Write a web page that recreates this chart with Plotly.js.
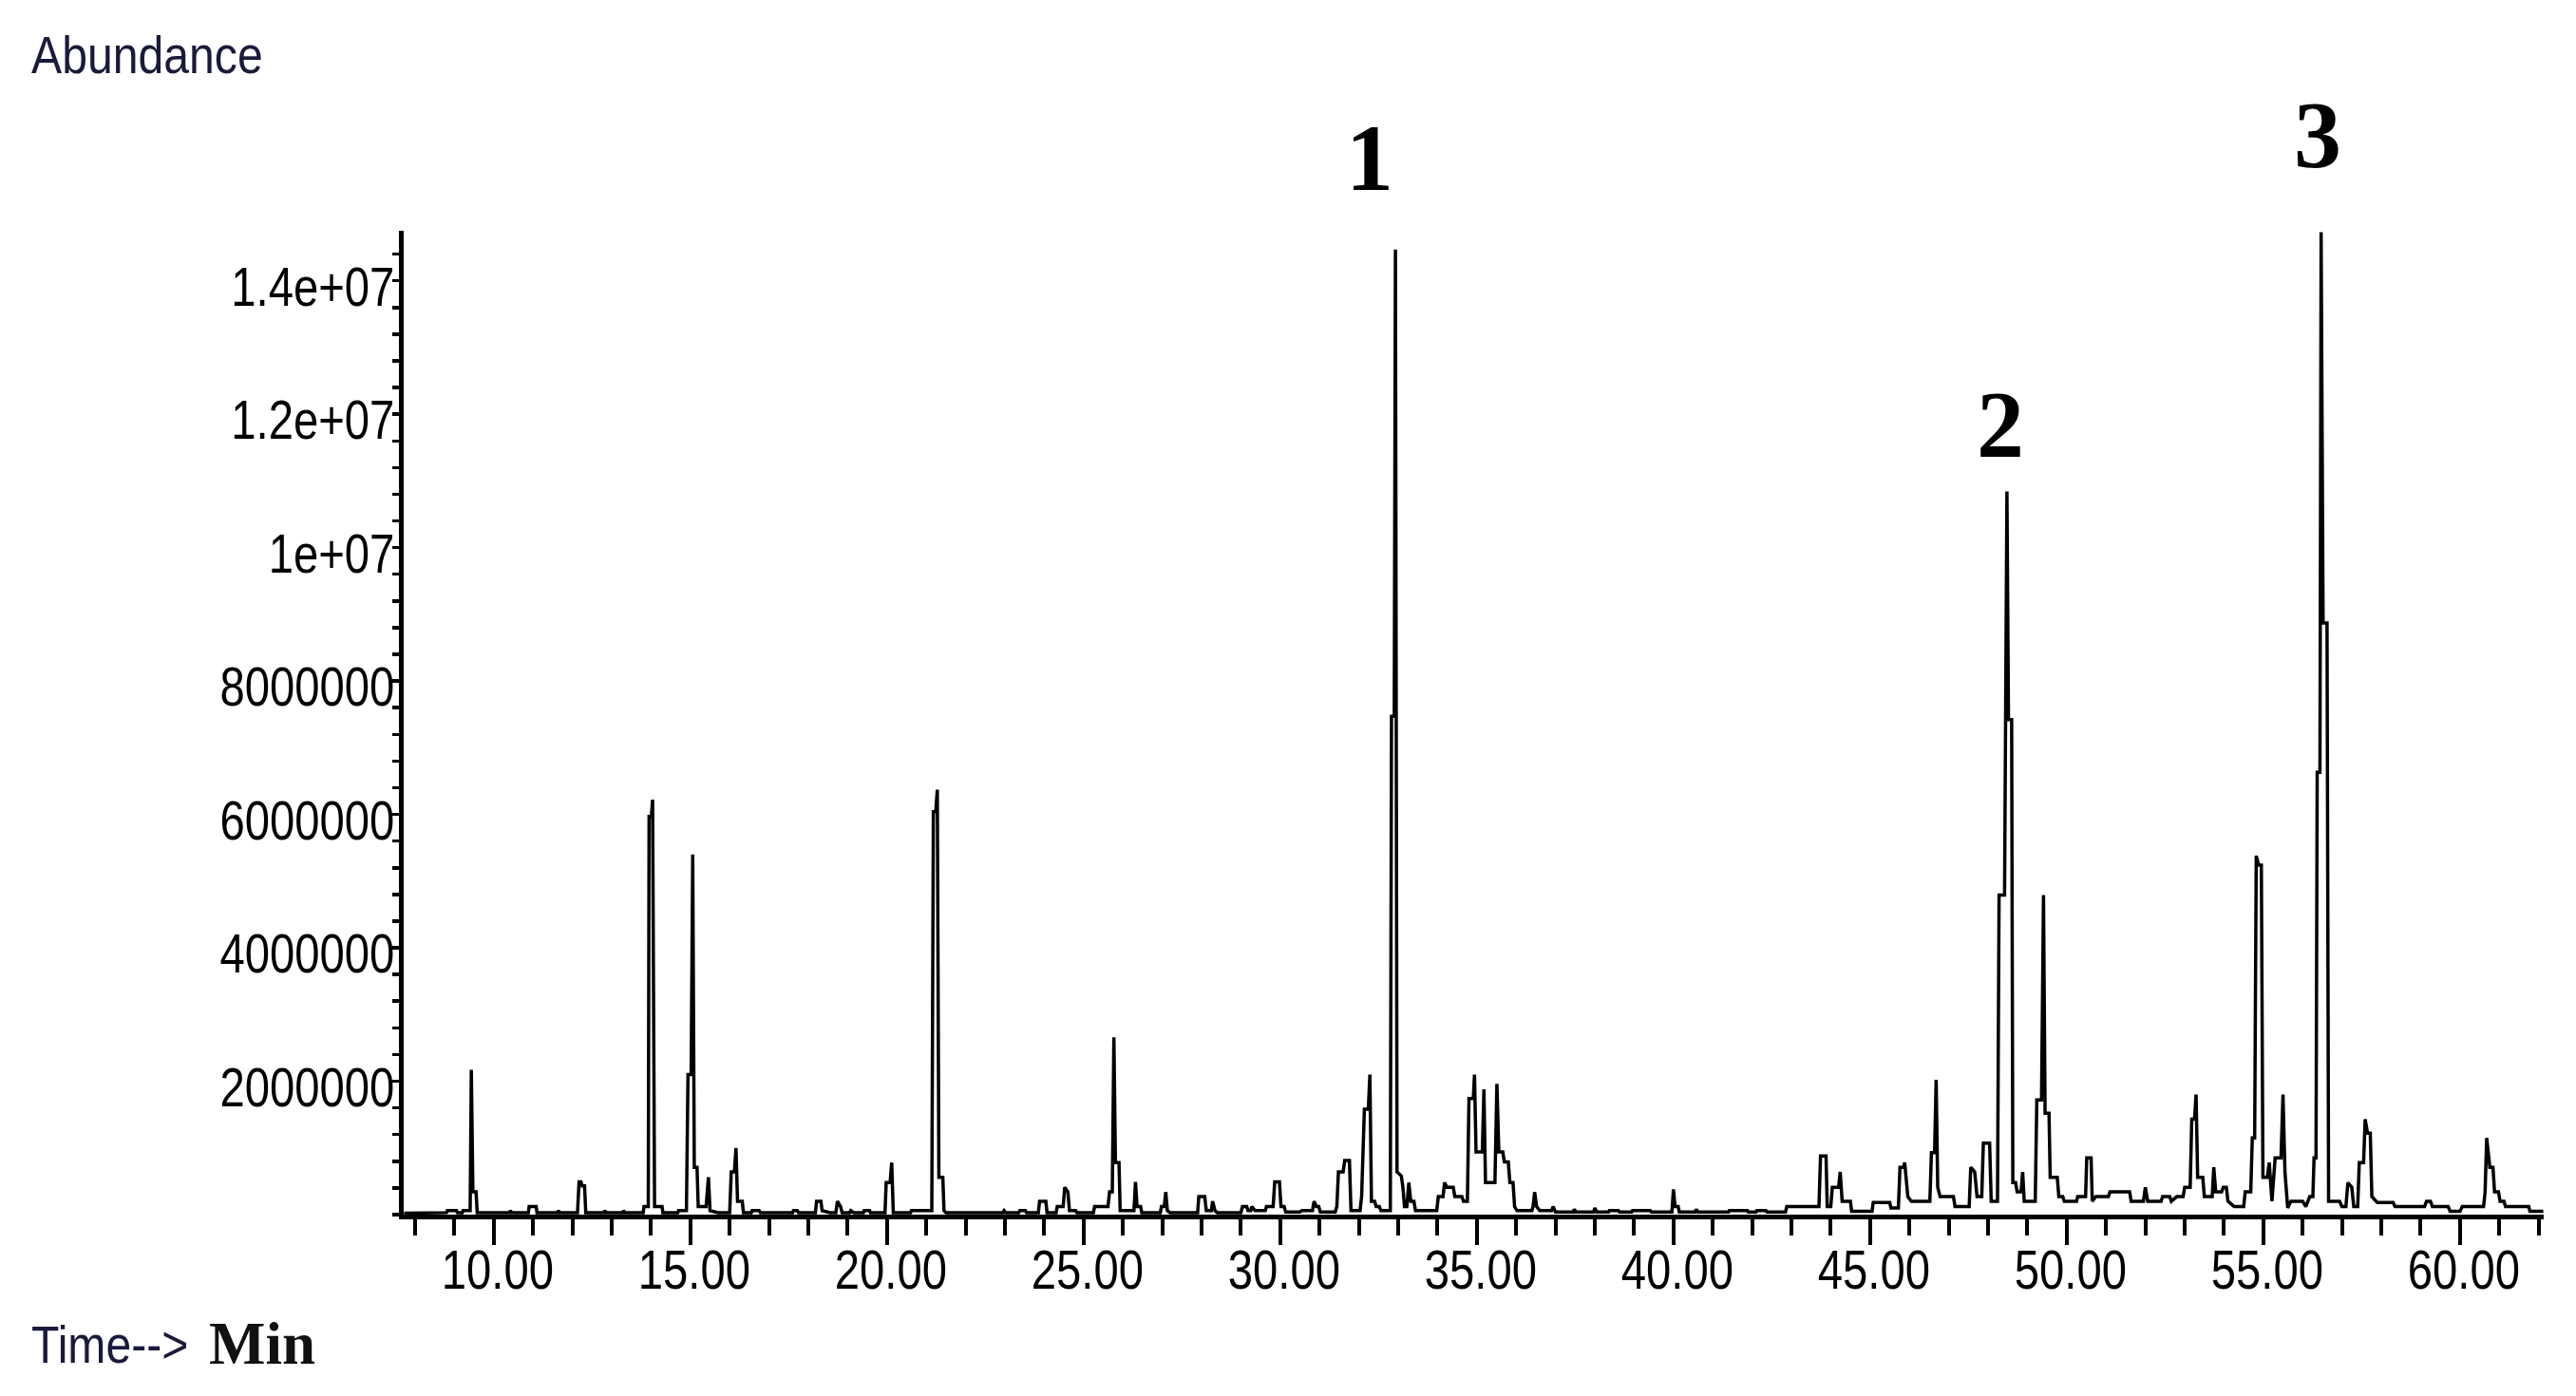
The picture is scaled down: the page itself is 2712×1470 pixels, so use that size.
<!DOCTYPE html>
<html>
<head>
<meta charset="utf-8">
<script src="https://cdn.plot.ly/plotly-3.0.1.min.js"></script>
<style>
  body { margin: 0; background: #fff; }
</style>
</head>
<body>
<div id="chrom"></div>
<script>
// retention time (min), abundance (millions of counts)
var seg1 = [[7.72,0.02],[8.80,0.03],[8.82,0.06],[9.05,0.06],[9.08,0.03],[9.20,0.03],[9.22,0.06],[9.40,0.06],[9.43,2.17],[9.47,0.34],[9.55,0.34],[9.58,0.03],
    [10.40,0.03],[10.42,0.06],[10.46,0.03],[10.88,0.03],[10.90,0.12],[11.08,0.12],[11.10,0.03],[11.62,0.03],[11.64,0.06],[11.68,0.03],
    [12.13,0.03],[12.17,0.49],[12.22,0.49],[12.25,0.43],[12.31,0.43],[12.34,0.03],[12.80,0.03],[12.82,0.06],[12.86,0.03],[13.28,0.03],[13.30,0.06],[13.34,0.03],
    [13.80,0.03],[13.82,0.12],[13.93,0.12],[13.95,5.97],[14.01,5.97],[14.04,6.22],[14.09,0.12],[14.28,0.12],[14.30,0.03],[14.68,0.03],[14.70,0.06],[14.90,0.06],
    [14.94,2.10],[15.02,2.10],[15.06,5.40],[15.10,0.71],[15.17,0.71],[15.20,0.12],[15.40,0.12],[15.46,0.56],[15.50,0.06],[15.70,0.03],
    [16.00,0.03],[16.04,0.64],[16.12,0.64],[16.16,1.00],[16.20,0.20],[16.32,0.20],[16.35,0.03],[16.55,0.03],[16.57,0.06],[16.75,0.06],[16.78,0.03],
    [17.60,0.03],[17.62,0.06],[17.72,0.06],[17.75,0.03],[18.18,0.03],[18.21,0.20],[18.32,0.20],[18.35,0.06],[18.55,0.03],[18.70,0.03],[18.74,0.20],[18.82,0.12],[18.86,0.03],
    [19.05,0.03],[19.08,0.06],[19.16,0.03],[19.40,0.03],[19.42,0.06],[19.56,0.06],[19.58,0.03],[19.95,0.03],[19.98,0.48],[20.08,0.48],[20.12,0.78],[20.16,0.03],
    [20.60,0.03],[20.62,0.06],[21.14,0.06],[21.18,6.04],[21.24,6.04],[21.28,6.37],[21.32,0.56],[21.42,0.56],[21.45,0.06]];

var seg2 = [[21.50,0.03],[22.95,0.03],[22.98,0.06],[23.02,0.03],[23.35,0.03],[23.38,0.06],[23.52,0.06],[23.55,0.03],[23.85,0.03],[23.88,0.20],[24.04,0.20],[24.07,0.03],
    [24.30,0.03],[24.33,0.12],[24.48,0.12],[24.52,0.41],[24.60,0.34],[24.64,0.06],[24.80,0.06],[24.83,0.03],[25.25,0.03],[25.28,0.12],[25.62,0.12],[25.66,0.34],[25.73,0.34],
    [25.77,2.66],[25.81,0.78],[25.90,0.78],[25.93,0.06],[26.28,0.06],[26.32,0.49],[26.36,0.12],[26.45,0.12],[26.48,0.03],[26.95,0.03],[26.98,0.12],[27.05,0.12],[27.09,0.34],[27.13,0.06],[27.20,0.03],
    [27.90,0.03],[27.93,0.27],[28.08,0.27],[28.12,0.06],[28.25,0.06],[28.28,0.20],[28.34,0.06],[28.40,0.03],[29.00,0.03],[29.04,0.12],[29.15,0.12],[29.18,0.06],[29.25,0.06],[29.28,0.12],[29.36,0.06],
    [29.62,0.06],[29.65,0.12],[29.82,0.12],[29.86,0.49],[29.98,0.49],[30.02,0.12],[30.10,0.12],[30.14,0.04],[30.50,0.04],[30.55,0.06],[30.82,0.06],[30.86,0.20],[30.92,0.12],[30.98,0.12],[31.02,0.04],
    [31.40,0.04],[31.44,0.12],[31.48,0.64],[31.60,0.64],[31.64,0.81],[31.76,0.81],[31.80,0.06],[32.03,0.06],[32.07,0.27],[32.14,1.58],[32.24,1.58],[32.28,2.10],[32.32,0.20],[32.40,0.20],[32.44,0.12],[32.52,0.12],[32.56,0.06],
    [32.80,0.06],[32.83,7.47],[32.90,7.47],[32.93,14.47],[32.97,0.64],[33.08,0.58],[33.12,0.41],[33.16,0.12],[33.22,0.12],[33.27,0.48],[33.32,0.20],[33.40,0.20],[33.44,0.06],
    [33.98,0.06],[34.02,0.27],[34.14,0.27],[34.18,0.48],[34.24,0.41],[34.40,0.41],[34.44,0.27],[34.62,0.27],[34.66,0.20],[34.76,0.20],
    [34.80,1.74],[34.91,1.74],[34.94,2.10],[34.98,0.94],[35.14,0.94],[35.18,1.88],[35.22,0.48],[35.46,0.48],[35.51,1.96],[35.56,0.94],[35.66,0.94],[35.70,0.79],[35.80,0.79],[35.84,0.48],[35.92,0.48],[35.96,0.12],
    [36.02,0.06],[36.40,0.06],[36.43,0.12],[36.47,0.34],[36.52,0.12],[36.60,0.06],[36.90,0.06],[36.94,0.12],[36.99,0.05]];

var seg3 = [[37.00,0.04],[37.45,0.04],[37.48,0.08],[37.52,0.04],[37.97,0.04],[38.00,0.10],[38.05,0.04],[38.35,0.04],[38.37,0.06],[38.60,0.06],[38.63,0.04],[38.94,0.04],[38.96,0.06],[39.41,0.06],[39.44,0.04],
    [39.96,0.04],[40.00,0.38],[40.04,0.12],[40.12,0.12],[40.15,0.04],[40.55,0.04],[40.58,0.08],[40.62,0.04],[41.40,0.04],[41.42,0.06],[41.88,0.06],[41.90,0.04],[42.10,0.04],[42.12,0.06],[42.35,0.06],[42.38,0.04],
    [42.85,0.04],[42.88,0.12],[43.70,0.12],[43.74,0.88],[43.88,0.88],[43.91,0.12],[44.00,0.12],[44.04,0.41],[44.20,0.41],[44.24,0.64],[44.29,0.20],[44.50,0.20],[44.53,0.05],[45.05,0.05],
    [45.08,0.18],[45.50,0.18],[45.53,0.10],[45.72,0.10],[45.76,0.71],[45.85,0.71],[45.88,0.78],[45.96,0.27],[46.05,0.20],[46.52,0.20],[46.56,0.93],[46.64,0.93],[46.68,2.02],[46.72,0.41],[46.78,0.27],
    [47.12,0.27],[47.16,0.12],[47.52,0.12],[47.56,0.71],[47.66,0.64],[47.72,0.27],[47.84,0.27],[47.88,1.07],[48.04,1.07],[48.08,0.20],[48.24,0.20],
    [48.28,4.79],[48.42,4.79],[48.48,10.84],[48.52,7.42],[48.60,7.42],[48.63,0.48],[48.70,0.48],[48.74,0.34],[48.84,0.34],[48.88,0.64],[48.92,0.20],
    [49.20,0.20],[49.24,1.72],[49.36,1.72],[49.41,4.79],[49.45,1.52],[49.55,1.52],[49.58,0.56],[49.76,0.56],[49.80,0.27],[49.90,0.27],[49.94,0.20]];

var seg4 = [[50.00,0.20],[50.25,0.20],[50.28,0.27],[50.48,0.27],[50.51,0.85],[50.62,0.85],[50.65,0.20],[50.74,0.27],[51.06,0.27],[51.10,0.34],[51.60,0.34],[51.64,0.20],
    [51.95,0.20],[52.00,0.41],[52.06,0.20],[52.40,0.20],[52.44,0.27],[52.62,0.27],[52.66,0.20],[52.80,0.27],[52.96,0.27],[53.00,0.41],[53.14,0.41],
    [53.18,1.43],[53.25,1.43],[53.29,1.80],[53.33,0.56],[53.46,0.56],[53.50,0.27],[53.70,0.27],[53.74,0.71],[53.79,0.34],[53.94,0.34],[53.98,0.41],[54.06,0.41],[54.10,0.20],[54.26,0.12],[54.50,0.12],
    [54.54,0.34],[54.68,0.34],[54.72,1.15],[54.78,1.15],[54.82,5.38],[54.88,5.24],[54.95,5.24],[54.99,0.56],[55.10,0.56],[55.15,0.78],[55.22,0.20],[55.30,0.85],[55.45,0.85],[55.50,1.80],[55.55,0.64],[55.62,0.10],
    [55.70,0.20],[56.00,0.20],[56.08,0.12],[56.18,0.27],[56.26,0.27],[56.29,0.85],[56.34,0.85],[56.37,6.63],[56.44,6.63],[56.47,14.73],[56.52,8.87],[56.62,8.87],[56.66,0.20],
    [56.94,0.20],[57.00,0.12],[57.10,0.12],[57.15,0.48],[57.25,0.41],[57.30,0.12],[57.40,0.12],[57.44,0.78],[57.55,0.78],[57.59,1.43],[57.65,1.22],[57.72,1.22],[57.76,0.27],[57.90,0.18],[58.30,0.18],[58.35,0.12],
    [59.10,0.12],[59.15,0.20],[59.25,0.20],[59.30,0.12],[59.70,0.12],[59.75,0.05],[60.00,0.05],[60.06,0.12],[60.60,0.12],[60.64,0.34],[60.68,1.15],[60.76,0.71],[60.84,0.71],[60.88,0.34],[60.98,0.34],
    [61.02,0.20],[61.12,0.20],[61.16,0.12],[61.75,0.12],[61.78,0.05],[62.12,0.05]];

// y ticks (millions) and the way the instrument prints them
var yTickVals = [2, 4, 6, 8, 10, 12, 14];
var yTickText = ['2000000', '4000000', '6000000', '8000000', '1e+07', '1.2e+07', '1.4e+07'];

// labelled peaks: label, label position (x in min, y in paper units)
var peakLabels = ['1', '2', '3'];
var peakLabelX = [32.28, 48.31, 56.39];
var peakLabelY = [1.0743, 0.804, 1.0975];

var sans = '"Liberation Sans", Arial, sans-serif';
var serif = '"Liberation Serif", "Times New Roman", serif';

// squeeze a text sideways around one point of its own box
function squeeze(t, s, where) {
    let b = t.getBBox();
    let ax = b.x + b.width * where;
    let tr = t.getAttribute('transform') || '';
    t.setAttribute('transform', `${tr} translate(${ax},0) scale(${s},1) translate(${-ax},0)`);
}

// the instrument font is a narrow one
function narrowText(gd) {
    gd.querySelectorAll('.xtick text').forEach((t) => squeeze(t, 0.815, 0.5));
    gd.querySelectorAll('.ytick text').forEach((t) => squeeze(t, 0.815, 1));
    gd.querySelectorAll('.annotation-text').forEach((t) => {
        if (t.textContent === 'Abundance' || t.textContent === 'Time-->') {
            squeeze(t, 0.86, 0);
        }
    });
}

function plotChromatogram() {
    var pts = seg1.concat(seg2, seg3, seg4);
    var trace = {
        x: pts.map(p => p[0]),
        y: pts.map(p => p[1]),
        type: 'scatter',
        mode: 'lines',
        line: {color: 'black', width: 3.5},
        hoverinfo: 'skip'
    };

    let notes = [];
    peakLabels.forEach((lab, i) => {
        notes.push({
            xref: 'x', yref: 'paper',
            x: peakLabelX[i], y: peakLabelY[i],
            text: lab, showarrow: false,
            xanchor: 'center', yanchor: 'middle',
            font: {family: serif, size: 100, color: 'black', weight: 'bold'}
        });
    });
    notes.push({
        xref: 'paper', yref: 'paper', x: -0.1749, y: 1.1795,
        xanchor: 'left', yanchor: 'middle', showarrow: false,
        text: 'Abundance',
        font: {family: sans, size: 56, color: '#1a1a3a'}
    });
    notes.push({
        xref: 'paper', yref: 'paper', x: -0.1749, y: -0.1313,
        xanchor: 'left', yanchor: 'middle', showarrow: false,
        text: 'Time-->',
        font: {family: sans, size: 56, color: '#1a1a3a'}
    });
    notes.push({
        xref: 'paper', yref: 'paper', x: -0.0919, y: -0.1313,
        xanchor: 'left', yanchor: 'middle', showarrow: false,
        text: 'Min',
        font: {family: serif, size: 63, color: '#111', weight: 'bold'}
    });

    Plotly.newPlot('chrom', [trace], {
        width: 2712,
        height: 1470,
        margin: {l: 425, r: 34, t: 243, b: 191, pad: 0},
        paper_bgcolor: 'white',
        plot_bgcolor: 'white',
        showlegend: false,
        font: {family: sans, size: 58, color: 'black'},
        xaxis: {
            range: [7.71, 62.13],
            showline: true, linecolor: 'black', linewidth: 5,
            showgrid: false, zeroline: false,
            tickmode: 'linear', tick0: 0, dtick: 5, tickformat: '.2f',
            ticks: 'outside', ticklen: 27, tickwidth: 4, tickcolor: 'black',
            ticklabelstandoff: -24, ticklabelshift: 4,
            minor: {ticks: 'outside', tickmode: 'linear', tick0: 0, dtick: 1, ticklen: 17, tickwidth: 4, tickcolor: 'black', showgrid: false},
            tickfont: {family: sans, size: 58, color: 'black'}
        },
        yaxis: {
            range: [0, 14.75],
            showline: true, linecolor: 'black', linewidth: 5,
            showgrid: false, zeroline: false,
            tickmode: 'array', tickvals: yTickVals, ticktext: yTickText,
            ticks: 'outside', ticklen: 7, tickwidth: 3.5, tickcolor: 'black',
            ticklabelstandoff: -14, ticklabelshift: 6,
            minor: {ticks: 'outside', tickmode: 'linear', tick0: 0, dtick: 0.4, ticklen: 7, tickwidth: 3.5, tickcolor: 'black', showgrid: false},
            tickfont: {family: sans, size: 58, color: 'black'}
        },
        annotations: notes
    },
    {displayModeBar: false, staticPlot: true}).then(narrowText);
}

plotChromatogram();
</script>
</body>
</html>
